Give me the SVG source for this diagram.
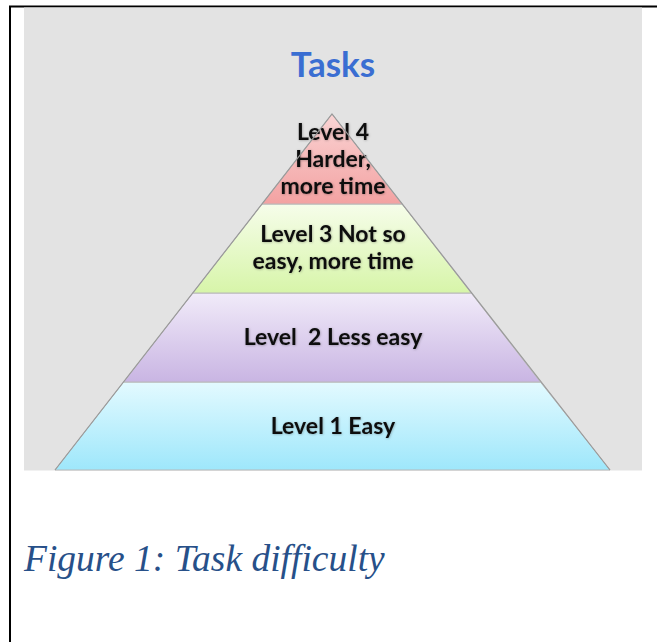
<svg xmlns="http://www.w3.org/2000/svg" width="657" height="642" viewBox="0 0 657 642">
  <style>
    .lvl { font-family: Lato, "Open Sans", "Liberation Sans", sans-serif; font-weight: bold; font-size: 23px; fill: #111; text-anchor: middle; }
    .title { font-family: Lato, "Open Sans", "Liberation Sans", sans-serif; font-weight: bold; font-size: 35px; fill: #3A6ED2; text-anchor: middle; }
    .caption { font-family: "Liberation Serif", "Times New Roman", serif; font-style: italic; font-size: 37.5px; fill: #275089; }
    .tier { stroke: #B8B8B8; stroke-width: 1; }
    .edge { fill: none; stroke: #9A9A9A; stroke-width: 1.2; }
  </style>
  <defs>
    <linearGradient id="g4" x1="0" y1="0" x2="0" y2="1">
      <stop offset="0" stop-color="#FAD4D4"/>
      <stop offset="1" stop-color="#F3A2A2"/>
    </linearGradient>
    <linearGradient id="g3" x1="0" y1="0" x2="0" y2="1">
      <stop offset="0" stop-color="#F6FDEA"/>
      <stop offset="1" stop-color="#D7F5A9"/>
    </linearGradient>
    <linearGradient id="g2" x1="0" y1="0" x2="0" y2="1">
      <stop offset="0" stop-color="#F1EBF9"/>
      <stop offset="1" stop-color="#C9B5E3"/>
    </linearGradient>
    <linearGradient id="g1" x1="0" y1="0" x2="0" y2="1">
      <stop offset="0" stop-color="#E3FAFF"/>
      <stop offset="1" stop-color="#9EE7FB"/>
    </linearGradient>
    <filter id="soft" x="-10%" y="-20%" width="120%" height="140%">
      <feDropShadow dx="0.5" dy="0.5" stdDeviation="0.8" flood-color="#000" flood-opacity="0.3"/>
    </filter>
  </defs>

  <!-- page frame -->
  <rect x="0" y="0" width="657" height="642" fill="#FFFFFF"/>
  <line x1="9" y1="6.5" x2="657" y2="6.5" stroke="#000" stroke-width="2"/>
  <line x1="10" y1="6" x2="10" y2="642" stroke="#000" stroke-width="2"/>

  <!-- chart background -->
  <rect x="24" y="7.5" width="618" height="463" fill="#E3E3E3"/>

  <text class="title" x="333" y="77">Tasks</text>

  <!-- pyramid tiers, apex (332,114), base y=470 -->
  <g id="level1">
    <polygon class="tier" points="123.6,382 540.4,382 610,470 55,470" fill="url(#g1)"/>
    <text class="lvl" x="333" y="434" filter="url(#soft)">Level 1 Easy</text>
  </g>
  <g id="level2">
    <polygon class="tier" points="192.8,293 471.2,293 540.4,382 123.6,382" fill="url(#g2)"/>
    <text class="lvl" x="333" y="345" filter="url(#soft)" xml:space="preserve">Level  2 Less easy</text>
  </g>
  <g id="level3">
    <polygon class="tier" points="262,204 402,204 471.2,293 192.8,293" fill="url(#g3)"/>
    <text class="lvl" x="333" y="242" filter="url(#soft)">Level 3 Not so</text>
    <text class="lvl" x="333" y="269" filter="url(#soft)">easy, more time</text>
  </g>
  <g id="level4">
    <polygon class="tier" points="332,114 402,204 262,204" fill="url(#g4)"/>
    <text class="lvl" x="333" y="140" filter="url(#soft)">Level 4</text>
    <text class="lvl" x="333" y="167" filter="url(#soft)">Harder,</text>
    <text class="lvl" x="333" y="194" filter="url(#soft)">more time</text>
  </g>

  <!-- outer pyramid outline -->
  <g id="connectors">
    <polyline class="edge" points="55,470 332,114 610,470"/>
  </g>

  <text class="caption" x="24" y="571">Figure 1: Task difficulty</text>
</svg>
